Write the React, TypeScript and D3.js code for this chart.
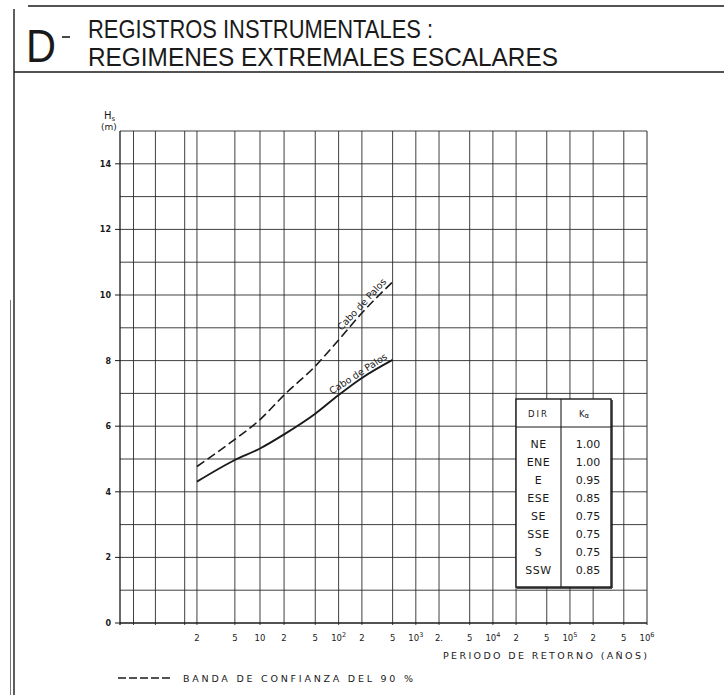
import React from 'react';
import * as d3 from 'd3';

// ---- data ----
const returnPeriods = [2, 5, 10, 20, 50, 100, 200, 500];
const hsCentral = [4.31, 4.97, 5.32, 5.75, 6.38, 6.95, 7.47, 8.02];
const hsUpper90 = [4.77, 5.6, 6.2, 6.95, 7.83, 8.63, 9.45, 10.4];

const gridT = [1.01, 1.1, 1.582, 2, 5, 10, 20, 50, 100, 200, 500, 1e3, 2e3, 5e3, 1e4, 2e4, 5e4, 1e5, 2e5, 5e5];
const xTickT = [2, 5, 10, 20, 50, 100, 200, 500, 1e3, 2e3, 5e3, 1e4, 2e4, 5e4, 1e5, 2e5, 5e5, 1e6];
const xTickLabels = ['2', '5', '10', '2', '5', '10^2', '2', '5', '10^3', '2.', '5', '10^4', '2', '5', '10^5', '2', '5', '10^6'];
const yTicks = [0, 2, 4, 6, 8, 10, 12, 14];
const hsGrid = [1, 2, 3, 4, 5, 6, 7, 8, 9, 10, 11, 12, 13, 14, 15];
const directions = ['NE', 'ENE', 'E', 'ESE', 'SE', 'SSE', 'S', 'SSW'];
const kAlpha = ['1.00', '1.00', '0.95', '0.85', '0.75', '0.75', '0.75', '0.85'];

const gumbel = (T: number) => -Math.log(-Math.log(1 - 1 / T));

const INK = '#1a1a1a';
const GRID = '#2a2a2a';
const FONT = '"DejaVu Sans", "Liberation Sans", sans-serif';
const TFONT = '"Liberation Sans", "DejaVu Sans", sans-serif';

export default function App() {
  const W = 724, H = 695;
  const x = d3.scaleLinear().domain([gumbel(1.001), gumbel(1e6)]).range([120, 647]);
  const y = d3.scaleLinear().domain([0, 15]).range([623, 131]);
  const x0 = x.range()[0], x1 = x.range()[1];
  const yB = y(0), yT = y(15);

  const line = d3.line<[number, number]>()
    .x(d => x(gumbel(d[0])))
    .y(d => y(d[1]))
    .curve(d3.curveMonotoneX);

  const central: [number, number][] = returnPeriods.map((t, i) => [t, hsCentral[i]]);
  const upper: [number, number][] = returnPeriods.map((t, i) => [t, hsUpper90[i]]);

  const labelFor = (pts: [number, number][], off: number) => {
    const a = pts[pts.length - 3];
    const b = pts[pts.length - 1];
    const ax = x(gumbel(a[0])), ay = y(a[1]);
    const bx = x(gumbel(b[0])), by = y(b[1]);
    const ang = Math.atan2(by - ay, bx - ax) * 180 / Math.PI;
    return { bx, by, ang, off };
  };
  const lu = labelFor(upper, -4);
  const lc = labelFor(central, -4);

  // table geometry
  const tL = 516, tR = 611, tTop = 399, tBot = 587, tDiv = 561, tHead = 427;
  const rowY = d3.scaleLinear().domain([0, directions.length - 1]).range([448, 574]);

  const renderTick = (lab: string) => {
    if (lab.includes('^')) {
      const [m, e] = lab.split('^');
      return (<>{m}<tspan dy={-4} fontSize={6.5}>{e}</tspan></>);
    }
    return lab;
  };

  return (
    <svg width={W} height={H} viewBox={`0 0 ${W} ${H}`}
      style={{ position: 'absolute', left: 0, top: 0, background: '#fff', display: 'block' }}>
      <rect x={0} y={0} width={W} height={H} fill="#fff" />

      {/* page frame */}
      <line x1={28} y1={6} x2={W} y2={6} stroke={INK} strokeWidth={1.6} />
      <line x1={14} y1={9} x2={14} y2={H} stroke={INK} strokeWidth={1.4} />
      <line x1={10.5} y1={300} x2={10.5} y2={H} stroke="#555" strokeWidth={0.8} />
      <line x1={14} y1={72} x2={W} y2={72} stroke={INK} strokeWidth={1.4} />

      {/* title */}
      <text x={26} y={62} fontFamily={TFONT} fontSize={46} fill={INK} textLength={30} lengthAdjust="spacingAndGlyphs">D</text>
      <line x1={62} x2={70} y1={37} y2={37} stroke={INK} strokeWidth={1.6} />
      <text x={88} y={38} fontFamily={TFONT} fontSize={25} fill={INK} textLength={345} lengthAdjust="spacingAndGlyphs">REGISTROS INSTRUMENTALES :</text>
      <text x={88} y={66} fontFamily={TFONT} fontSize={25} fill={INK} textLength={470} lengthAdjust="spacingAndGlyphs">REGIMENES  EXTREMALES  ESCALARES</text>

      {/* grid */}
      {hsGrid.map(h => (
        <line key={'h' + h} x1={x0} x2={x1} y1={y(h)} y2={y(h)} stroke={GRID} strokeWidth={0.9} />
      ))}
      {gridT.map(t => (
        <line key={'v' + t} x1={x(gumbel(t))} x2={x(gumbel(t))} y1={yT} y2={yB + 2} stroke={GRID} strokeWidth={0.9} />
      ))}
      <line x1={x1} x2={x1} y1={yT} y2={yB + 2} stroke={GRID} strokeWidth={1} />
      <line x1={x0} x2={x0} y1={yT} y2={yB + 2} stroke={INK} strokeWidth={1.3} />
      <line x1={x0} x2={x1} y1={yB} y2={yB} stroke={INK} strokeWidth={1.3} />

      {/* y ticks */}
      {yTicks.map(v => (
        <g key={'yt' + v}>
          <line x1={x0 - 5} x2={x0} y1={y(v)} y2={y(v)} stroke={INK} strokeWidth={1} />
          <text x={x0 - 9} y={y(v) + 3} textAnchor="end" fontFamily={FONT} fontSize={8} fontWeight={600} fill={INK}>{v}</text>
        </g>
      ))}
      <text x={x0 - 16} y={119} fontFamily={FONT} fontSize={10} fill={INK}>H<tspan dy={2} fontSize={7}>s</tspan></text>
      <text x={x0 - 19} y={130} fontFamily={FONT} fontSize={9} fill={INK}>(m)</text>

      {/* x tick labels */}
      {xTickT.map((t, i) => (
        <text key={'xt' + i} x={x(gumbel(t))} y={yB + 18} textAnchor="middle" fontFamily={FONT} fontSize={8.5} fill={INK}>
          {renderTick(xTickLabels[i])}
        </text>
      ))}
      <text x={443} y={yB + 36} fontFamily={FONT} fontSize={9.5} fill={INK} textLength={204} lengthAdjust="spacing">PERIODO DE RETORNO  (AÑOS)</text>

      {/* curves */}
      <path d={line(upper) || ''} fill="none" stroke={INK} strokeWidth={1.6} strokeDasharray="9,4" />
      <path d={line(central) || ''} fill="none" stroke={INK} strokeWidth={1.9} />

      <g transform={`translate(${lu.bx},${lu.by}) rotate(${lu.ang}) translate(-4,${lu.off})`}>
        <text textAnchor="end" fontFamily={FONT} fontSize={9.5} fill={INK}>Cabo de Palos</text>
      </g>
      <g transform={`translate(${lc.bx},${lc.by}) rotate(${lc.ang}) translate(-3,${lc.off})`}>
        <text textAnchor="end" fontFamily={FONT} fontSize={9.5} fill={INK}>Cabo de Palos</text>
      </g>

      {/* table */}
      <rect x={tL} y={tTop} width={tR - tL} height={tBot - tTop} fill="#fff" stroke={INK} strokeWidth={1.4} />
      <line x1={tR + 1} x2={tR + 1} y1={tTop + 1} y2={tBot + 1} stroke={INK} strokeWidth={1.4} />
      <line x1={tL + 1} x2={tR + 1} y1={tBot + 1} y2={tBot + 1} stroke={INK} strokeWidth={1.4} />
      <line x1={tDiv} x2={tDiv} y1={tTop} y2={tBot} stroke={INK} strokeWidth={1.1} />
      <line x1={tL} x2={tR} y1={tHead} y2={tHead} stroke={INK} strokeWidth={1.1} />
      <text x={(tL + tDiv) / 2} y={(tTop + tHead) / 2 + 4} textAnchor="middle" fontFamily={FONT} fontSize={8.5} letterSpacing={2} fill={INK}>DIR</text>
      <text x={(tDiv + tR) / 2 - 2} y={(tTop + tHead) / 2 + 4} textAnchor="middle" fontFamily={FONT} fontSize={8.5} fill={INK}>K<tspan fontSize={7} dy={1}>α</tspan></text>
      {directions.map((d, i) => (
        <g key={d + i}>
          <text x={(tL + tDiv) / 2} y={rowY(i)} textAnchor="middle" fontFamily={FONT} fontSize={11} letterSpacing={0.5} fill={INK}>{d}</text>
          <text x={(tDiv + tR) / 2 + 2} y={rowY(i)} textAnchor="middle" fontFamily={FONT} fontSize={11} fill={INK}>{kAlpha[i]}</text>
        </g>
      ))}

      {/* legend */}
      <line x1={118} x2={172} y1={678} y2={678} stroke={INK} strokeWidth={1.5} strokeDasharray="8,3" />
      <text x={183} y={682} fontFamily={FONT} fontSize={9.5} fill={INK} textLength={230} lengthAdjust="spacing">BANDA DE CONFIANZA DEL 90 %</text>
    </svg>
  );
}
